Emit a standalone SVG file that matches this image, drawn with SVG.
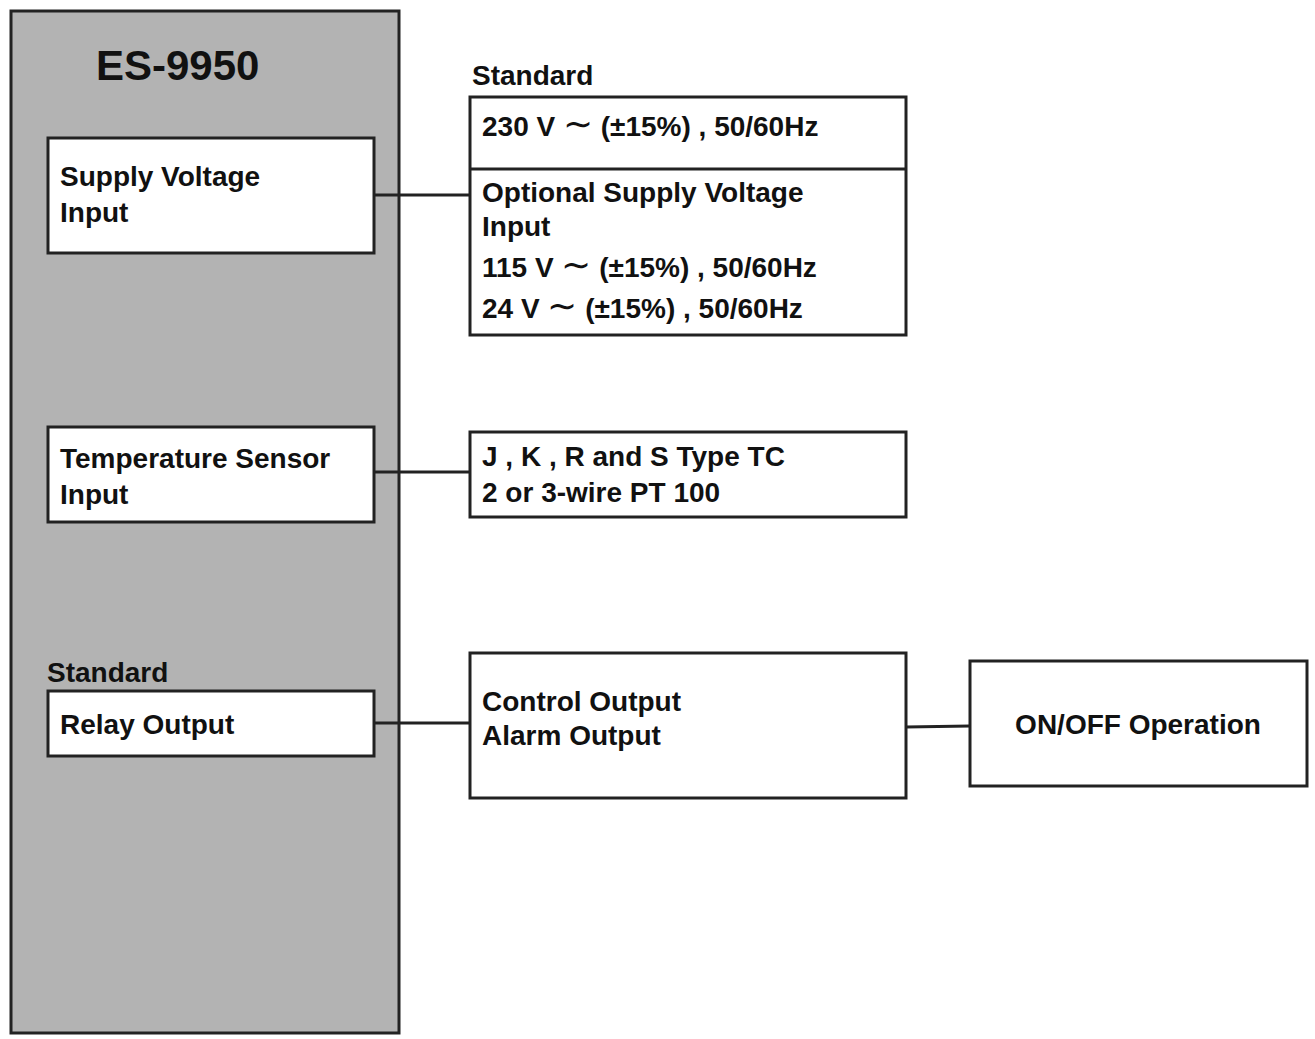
<svg xmlns="http://www.w3.org/2000/svg" width="1315" height="1039" viewBox="0 0 1315 1039">
<style>
text{font-family:"Liberation Sans",Arial,sans-serif;font-weight:bold;font-size:28px;fill:#111}
.b{fill:#fff;stroke:#222;stroke-width:3}
.c{stroke:#222;stroke-width:3;fill:none}
</style>
<rect width="1315" height="1039" fill="#fff"/>
<g id="main"><rect x="11" y="11" width="388" height="1022" fill="#b3b3b3" stroke="#222" stroke-width="3"/>
<text x="96" y="80" style="font-size:42px">ES-9950</text></g>
<g id="supply"><rect class="b" x="48" y="138" width="326" height="115"/><text x="60" y="186">Supply Voltage</text><text x="60" y="222">Input</text></g>
<g id="temp"><rect class="b" x="48" y="427" width="326" height="95"/><text x="60" y="468">Temperature Sensor</text><text x="60" y="504">Input</text></g>
<g id="relay"><text x="47" y="682">Standard</text><rect class="b" x="48" y="691" width="326" height="65"/><text x="60" y="734">Relay Output</text></g>
<g id="voltage"><text x="472" y="85">Standard</text><rect class="b" x="470" y="97" width="436" height="238"/><line class="c" x1="470" y1="169" x2="906" y2="169"/>
<text x="482" y="136">230 V <tspan style="font-weight:normal;font-size:36px">∼</tspan> (±15%) , 50/60Hz</text>
<text x="482" y="202">Optional Supply Voltage</text><text x="482" y="236">Input</text>
<text x="482" y="277">115 V <tspan style="font-weight:normal;font-size:36px">∼</tspan> (±15%) , 50/60Hz</text>
<text x="482" y="318">24 V <tspan style="font-weight:normal;font-size:36px">∼</tspan> (±15%) , 50/60Hz</text></g>
<g id="tc"><rect class="b" x="470" y="432" width="436" height="85"/><text x="482" y="466">J , K , R and S Type TC</text><text x="482" y="502">2 or 3-wire PT 100</text></g>
<g id="ctrl"><rect class="b" x="470" y="653" width="436" height="145"/><text x="482" y="711">Control Output</text><text x="482" y="745">Alarm Output</text></g>
<g id="onoff"><rect class="b" x="970" y="661" width="337" height="125"/><text x="1138" y="734" text-anchor="middle">ON/OFF Operation</text></g>
<g id="connectors">
<line class="c" x1="374" y1="195" x2="470" y2="195"/>
<line class="c" x1="374" y1="472" x2="470" y2="472"/>
<line class="c" x1="374" y1="723" x2="470" y2="723"/>
<line class="c" x1="906" y1="727" x2="970" y2="726"/>
</g>
</svg>
